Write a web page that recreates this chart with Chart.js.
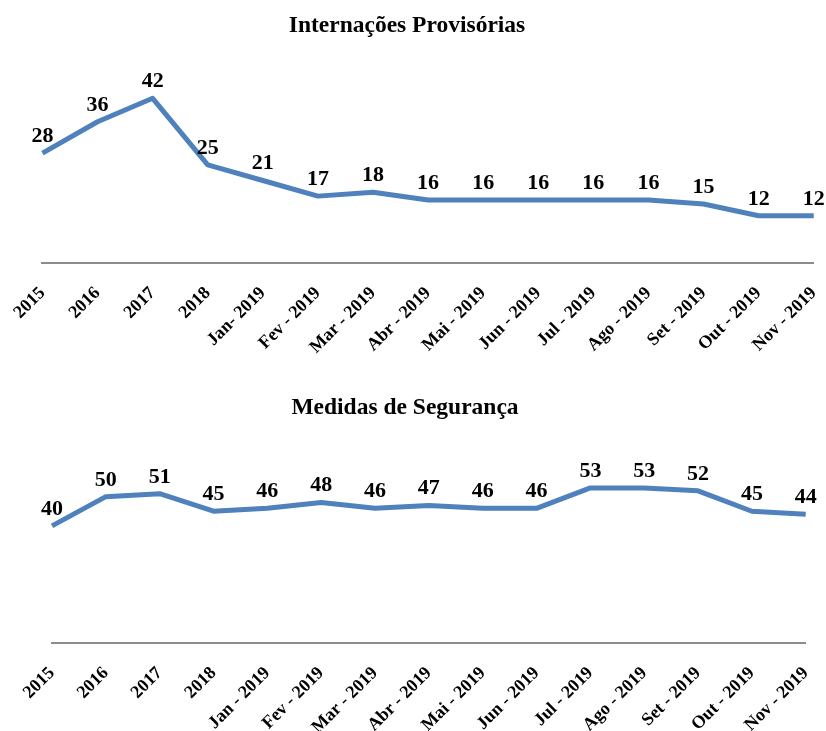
<!DOCTYPE html>
<html>
<head>
<meta charset="utf-8">
<script src="https://cdn.jsdelivr.net/npm/chart.js@4"></script>
<style>
  html, body { margin: 0; padding: 0; background: #fff; overflow: hidden; width: 826px; height: 731px; position: relative; }
  .bloco { position: absolute; height: 378px; }
  #bloco1 { top: 0; left: -3px; width: 852px; }
  #bloco2 { top: 380px; left: 0; width: 841px; }
  .titulo {
    position: absolute; left: 0; text-align: center;
    font: bold 23.5px "Liberation Serif", "Times New Roman", serif; color: #000;
    line-height: 28px; z-index: 2;
  }
  #titulo1 { top: 10px; width: 814px; }
  #titulo2 { top: 392px; width: 810px; }
</style>
</head>
<body>
<div class="titulo" id="titulo1">Internações Provisórias</div>
<div class="titulo" id="titulo2">Medidas de Segurança</div>
<div class="bloco" id="bloco1"><canvas id="graficoInternacoes"></canvas></div>
<div class="bloco" id="bloco2"><canvas id="graficoMedidas"></canvas></div>
<script>
const categoriasInternacoes = ['2015', '2016', '2017', '2018', 'Jan- 2019', 'Fev - 2019', 'Mar - 2019', 'Abr - 2019',
    'Mai - 2019', 'Jun - 2019', 'Jul - 2019', 'Ago - 2019', 'Set - 2019', 'Out - 2019', 'Nov - 2019'];
const valoresInternacoes = [28, 36, 42, 25, 21, 17, 18, 16, 16, 16, 16, 16, 15, 12, 12];

const categoriasMedidas = ['2015', '2016', '2017', '2018', 'Jan - 2019', 'Fev - 2019', 'Mar - 2019', 'Abr - 2019',
    'Mai - 2019', 'Jun - 2019', 'Jul - 2019', 'Ago - 2019', 'Set - 2019', 'Out - 2019', 'Nov - 2019'];
const valoresMedidas = [40, 50, 51, 45, 46, 48, 46, 47, 46, 46, 53, 53, 52, 45, 44];

const fonte = '"Liberation Serif", "Times New Roman", serif';

// escreve o valor acima de cada ponto
const rotulosValores = {
    id: 'rotulosValores',
    afterDatasetsDraw(chart) {
        const ctx = chart.ctx;
        ctx.save();
        ctx.font = 'bold 22px ' + fonte;
        ctx.fillStyle = '#000';
        ctx.textAlign = 'center';
        ctx.textBaseline = 'alphabetic';
        chart.data.datasets.forEach((ds, i) => {
            chart.getDatasetMeta(i).data.forEach((pt, j) => {
                ctx.fillText(String(ds.data[j]), pt.x, pt.y - 11);
            });
        });
        ctx.restore();
    }
};

function criarGrafico(id, categorias, valores, maxY, padding) {
    new Chart(document.getElementById(id), {
        type: 'line',
        data: {
            labels: categorias,
            datasets: [{
                data: valores,
                borderColor: '#4F81BD',
                borderWidth: 5,
                pointRadius: 0,
                tension: 0,
                borderJoinStyle: 'round',
                fill: false
            }]
        },
        options: {
            responsive: true,
            maintainAspectRatio: false,
            animation: false,
            layout: { padding: padding },
            plugins: {
                legend: { display: false },
                tooltip: { enabled: false },
                title: { display: false }
            },
            scales: {
                x: {
                    offset: false,
                    grid: { display: false, drawTicks: false },
                    border: { display: true, color: '#8c8c8c', width: 2 },
                    ticks: {
                        color: '#000',
                        font: { family: fonte, size: 18, weight: 'bold' },
                        minRotation: 45,
                        maxRotation: 45,
                        padding: 20,
                        autoSkip: false
                    }
                },
                y: {
                    display: false,
                    min: 0,
                    max: maxY
                }
            }
        },
        plugins: [rotulosValores]
    });
}

criarGrafico('graficoInternacoes', categoriasInternacoes, valoresInternacoes, 50,
    { left: 43, right: 0, top: 67, bottom: 0 });
criarGrafico('graficoMedidas', categoriasMedidas, valoresMedidas, 67,
    { left: 52, right: 0, top: 67, bottom: 0 });
</script>
</body>
</html>
